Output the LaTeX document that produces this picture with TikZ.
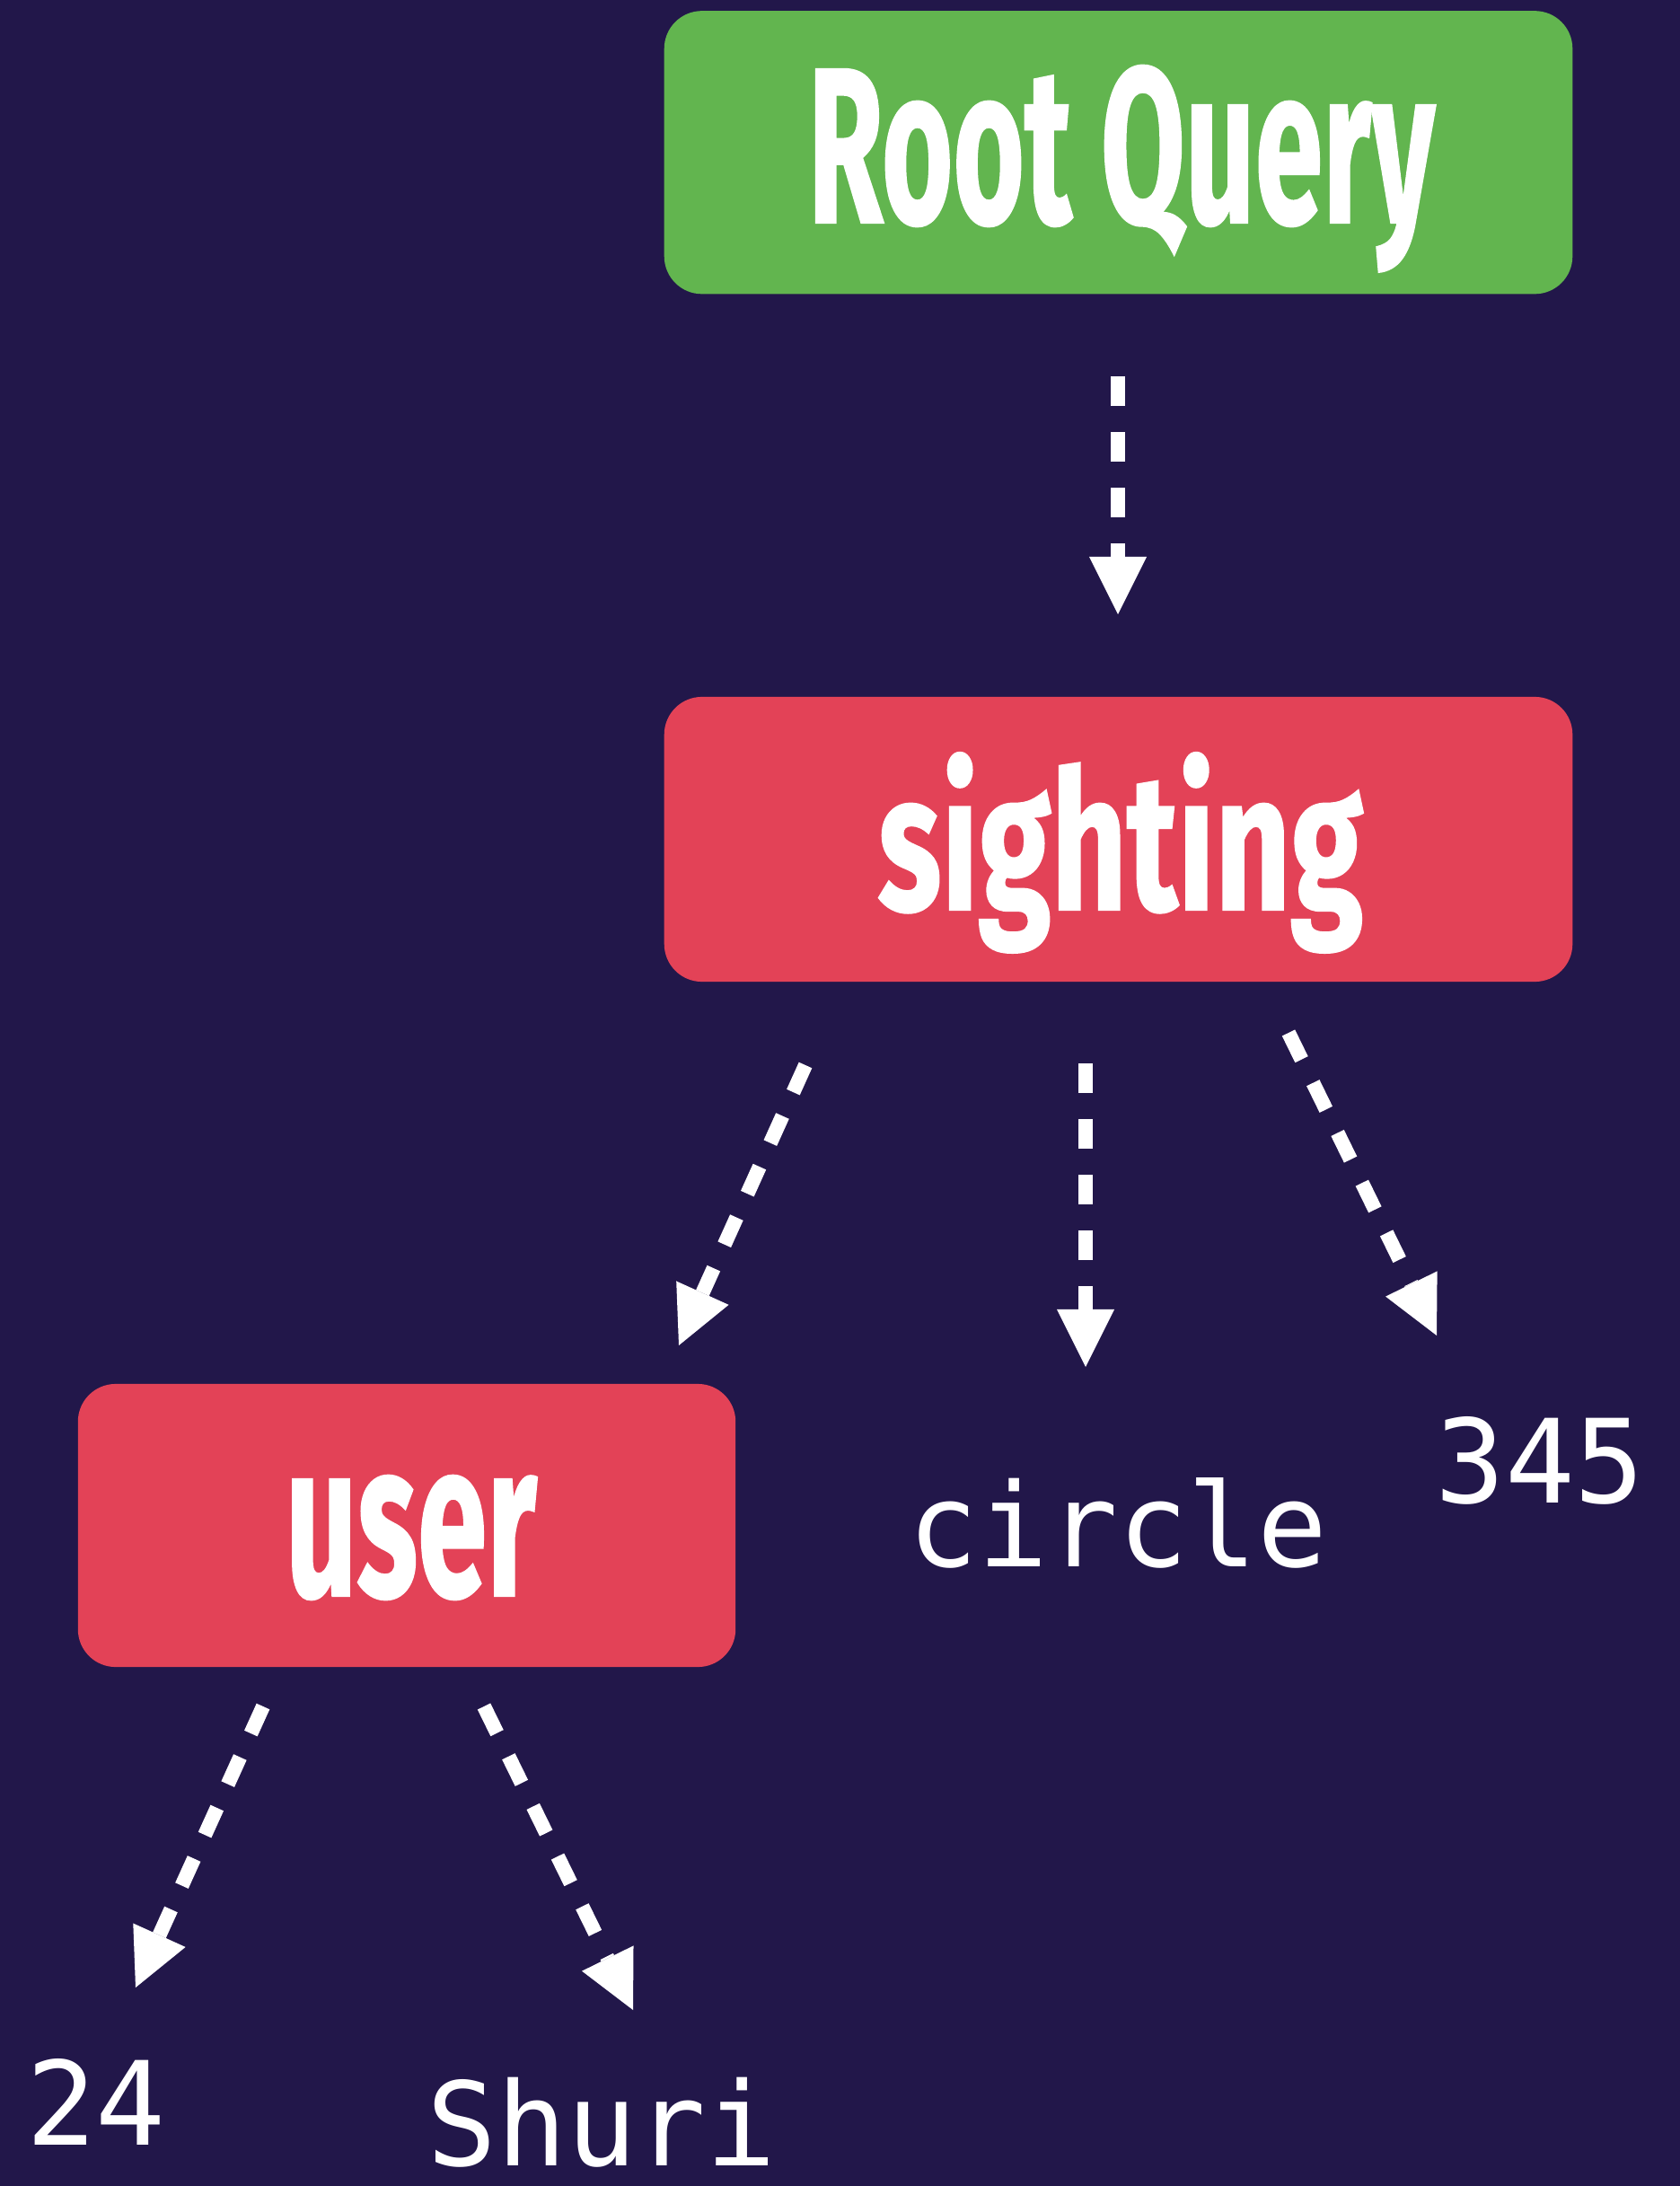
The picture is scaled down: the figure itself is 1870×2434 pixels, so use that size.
\documentclass[tikz,border=0pt]{standalone}
\usepackage{fontspec}
\usetikzlibrary{arrows.meta}
\newfontfamily\labelfont{Fira Sans}[BoldFeatures={FakeBold=1}]
\newfontfamily\valuefont{DejaVu Sans Mono}
\definecolor{bgnavy}{HTML}{22174A}
\definecolor{querygreen}{HTML}{62B54F}
\definecolor{fieldred}{HTML}{E34257}

\begin{document}
\begin{tikzpicture}[x=0.01cm, y=-0.01cm,
  box/.style={rounded corners=0.42cm, inner sep=0pt, draw=none},
  title/.style={text=white, inner sep=0pt, anchor=base, font=\labelfont\bfseries},
  value/.style={text=white, inner sep=0pt, anchor=base, font=\valuefont\fontsize{36.8}{44}\selectfont},
  conn/.style={white, line width=0.16cm, dash pattern=on 0.33cm off 0.29cm,
    -{Triangle[length=0.64cm, width=0.64cm, line width=0pt]}}
]
% canvas
\useasboundingbox (0,0) rectangle (1870,2434);
\fill[bgnavy] (-20,-20) rectangle (1890,2454);

% type boxes
\node[box, fill=querygreen, minimum width=10.11cm, minimum height=3.15cm] (root) at (1245.5,169.75) {};
\node[box, fill=fieldred, minimum width=10.11cm, minimum height=3.17cm] (sighting) at (1245.5,934.5) {};
\node[box, fill=fieldred, minimum width=7.32cm, minimum height=3.15cm] (user) at (453,1698.5) {};

\node[title] (root-text) at (1249,248) {\resizebox{6.98cm}{1.75cm}{Root Query}};
\node[title] (sighting-text) at (1248,1013) {\resizebox{5.40cm}{1.75cm}{sighting}};
\node[title] (user-text) at (458,1777) {\resizebox{2.80cm}{1.34cm}{user}};

% scalar values
\node[value] (circle) at (1245,1744) {circle};
\node[value] (num345) at (1715,1673) {345};
\node[value] (num24) at (107,2388) {24};
\node[value] (shuri) at (670,2411) {Shuri};

% connector end points
\coordinate (root-out) at (1245,419);
\coordinate (sighting-in) at (1245,684);
\coordinate (sighting-out1) at (897,1186);
\coordinate (user-in) at (756,1498);
\coordinate (sighting-out2) at (1209,1184);
\coordinate (circle-in) at (1209,1522);
\coordinate (sighting-out3) at (1435,1150);
\coordinate (num345-in) at (1600,1487);
\coordinate (user-out1) at (293,1900);
\coordinate (num24-in) at (151,2213);
\coordinate (user-out2) at (539,1900);
\coordinate (shuri-in) at (705,2238);

% connectors
\draw[conn] (root-out) -- (sighting-in);
\draw[conn] (sighting-out1) -- (user-in);
\draw[conn] (sighting-out2) -- (circle-in);
\draw[conn] (sighting-out3) -- (num345-in);
\draw[conn] (user-out1) -- (num24-in);
\draw[conn] (user-out2) -- (shuri-in);
\end{tikzpicture}
\end{document}
